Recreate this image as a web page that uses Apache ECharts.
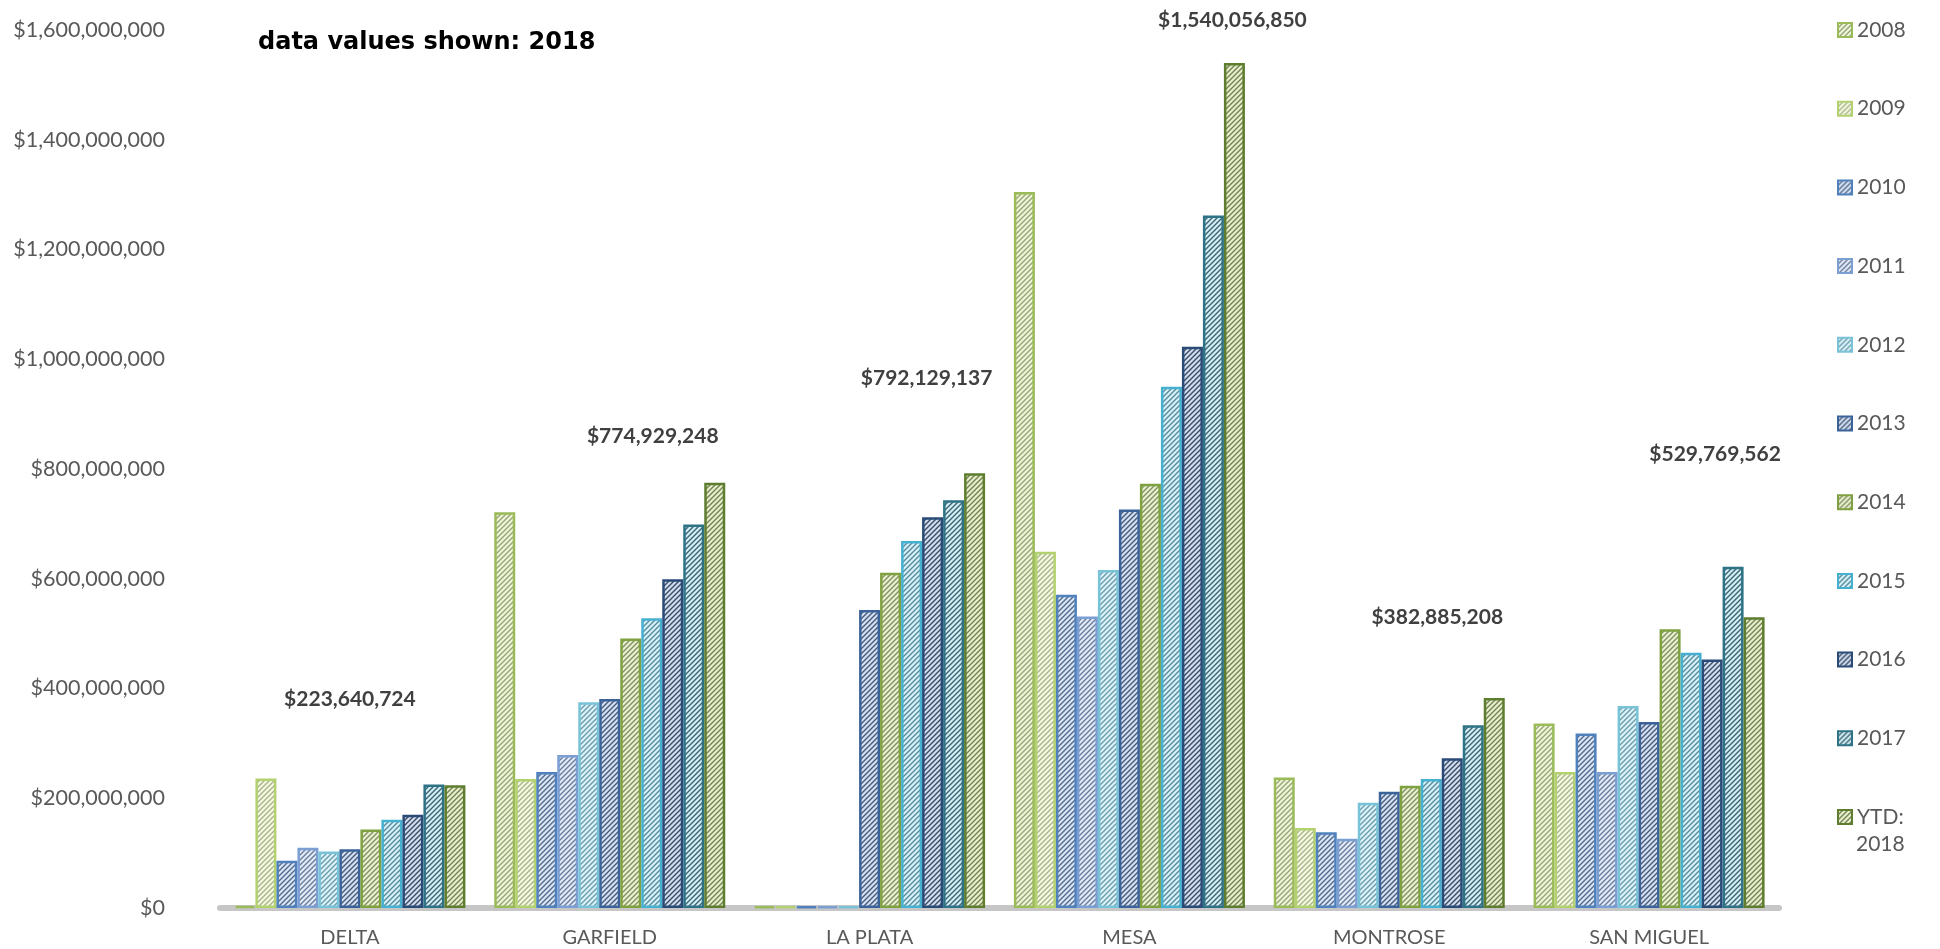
<!DOCTYPE html>
<html><head><meta charset="utf-8">
<script src="https://cdn.jsdelivr.net/npm/echarts@6/dist/echarts.min.js"></script>
<style>html,body{margin:0;padding:0;background:#fff}#c{width:1940px;height:949px}</style>
</head><body><div id="c"></div>
<script>
// ---- data ----
const counties = ['DELTA', 'GARFIELD', 'LA PLATA', 'MESA', 'MONTROSE', 'SAN MIGUEL'];
const years = ['2008', '2009', '2010', '2011', '2012', '2013', '2014', '2015', '2016', '2017', 'YTD: 2018'];
const yTicks = [0, 200000000, 400000000, 600000000, 800000000, 1000000000, 1200000000, 1400000000, 1600000000];

const v2008 = [4000000, 721000000, 3000000, 1305000000, 238000000, 336000000];
const v2009 = [236000000, 235000000, 3000000, 649000000, 146000000, 248000000];
const v2010 = [86000000, 248000000, 3000000, 571000000, 138000000, 318000000];
const v2011 = [110000000, 279000000, 3000000, 531000000, 126000000, 248000000];
const v2012 = [103000000, 375000000, 3000000, 616000000, 192000000, 368000000];
const v2013 = [107000000, 381000000, 543000000, 726000000, 212000000, 339000000];
const v2014 = [143000000, 491000000, 611000000, 773000000, 223000000, 508000000];
const v2015 = [161000000, 528000000, 669000000, 950000000, 235000000, 465000000];
const v2016 = [170000000, 599000000, 712000000, 1023000000, 273000000, 453000000];
const v2017 = [225000000, 699000000, 743000000, 1262000000, 333000000, 622000000];
const v2018 = [223640724, 774929248, 792129137, 1540056850, 382885208, 529769562];
const seriesValues = [v2008, v2009, v2010, v2011, v2012, v2013, v2014, v2015, v2016, v2017, v2018];

// ---- styles (not data) ----
const styles = [
  {border: '#9bbb59', bg: '#eef6d8', line: '#98a478'},
  {border: '#b3d16f', bg: '#f3f9e2', line: '#aab48a'},
  {border: '#4f81bd', bg: '#d9e6f6', line: '#55698c'},
  {border: '#7c9fd3', bg: '#e2ebf8', line: '#6a7b9c'},
  {border: '#79c3d8', bg: '#ddf3f9', line: '#6a9cac'},
  {border: '#3b6399', bg: '#d5e1f3', line: '#465a7a'},
  {border: '#7fa140', bg: '#e8f2cd', line: '#838f68'},
  {border: '#45b0cf', bg: '#d8f1f8', line: '#558b9c'},
  {border: '#2a4a78', bg: '#d1def0', line: '#3c4a64'},
  {border: '#2e7286', bg: '#d5edf4', line: '#3a6572'},
  {border: '#5e7d2e', bg: '#e6f0c8', line: '#75805a'}
];
const LABEL_OFFSETS = [[-105, -74], [-62, -35], [-48, -83], [-2, -31], [-57, -69], [-39, -151]];

function hatch(bg, line) {
  const s = 5;
  const c = document.createElement('canvas');
  c.width = s; c.height = s;
  const g = c.getContext('2d');
  g.fillStyle = bg; g.fillRect(0, 0, s, s);
  g.strokeStyle = line; g.lineWidth = 1.4;
  g.beginPath();
  g.moveTo(0, s); g.lineTo(s, 0);
  g.moveTo(-1, 1); g.lineTo(1, -1);
  g.moveTo(s - 1, s + 1); g.lineTo(s + 1, s - 1);
  g.stroke();
  return {image: c, repeat: 'repeat'};
}

const money = v => '$' + Math.round(v).toLocaleString('en-US');

const series = years.map((name, i) => {
  const st = styles[i];
  const isLast = i === years.length - 1;
  return {
    name: name,
    type: 'bar',
    barWidth: 21,
    barGap: '0%',
    itemStyle: {color: hatch(st.bg, st.line), borderColor: st.border, borderWidth: 2.5},
    data: seriesValues[i].map((v, k) => isLast ? {value: v, label: {offset: LABEL_OFFSETS[k]}} : v),
    label: isLast ? {
      show: true, position: 'top', distance: 0,
      formatter: p => money(p.value),
      fontFamily: 'Lato', fontWeight: 'bold', fontSize: 21, lineHeight: 24, color: '#404040'
    } : {show: false},
    emphasis: {disabled: true}
  };
});

const chart = echarts.init(document.getElementById('c'), null, {renderer: 'canvas'});
chart.setOption({
  animation: false,
  backgroundColor: '#ffffff',
  grid: {left: 220, right: 161, top: 30, bottom: 41},
  xAxis: {
    type: 'category', data: counties,
    axisTick: {show: false},
    axisLine: {lineStyle: {color: '#c6c6c6', width: 6}},
    axisLabel: {color: '#595959', fontSize: 20, fontFamily: 'Lato', margin: 20}
  },
  yAxis: {
    type: 'value', min: yTicks[0], max: yTicks[yTicks.length - 1], interval: yTicks[1] - yTicks[0],
    splitLine: {show: false}, axisLine: {show: false}, axisTick: {show: false},
    axisLabel: {color: '#595959', fontSize: 21.5, fontFamily: 'Lato', margin: 55, formatter: v => money(v)}
  },
  legend: {
    orient: 'vertical', left: 1837, top: 16, padding: 0,
    itemWidth: 14, itemHeight: 14, itemGap: 50.7, icon: 'rect',
    textStyle: {color: '#595959', fontSize: 21, fontFamily: 'Lato', lineHeight: 28},
    formatter: n => n === 'YTD: 2018' ? 'YTD:' : n,
    selectedMode: false,
    data: years
  },
  graphic: [
    {type: 'text', left: 258, top: 31, style: {text: 'data values shown: 2018', font: 'bold 24px "DejaVu Sans"', fill: '#000'}},
    {type: 'text', left: 1856, top: 834, style: {text: '2018', font: '21px Lato', fill: '#595959'}}
  ],
  series: series
});
</script>
</body></html>
